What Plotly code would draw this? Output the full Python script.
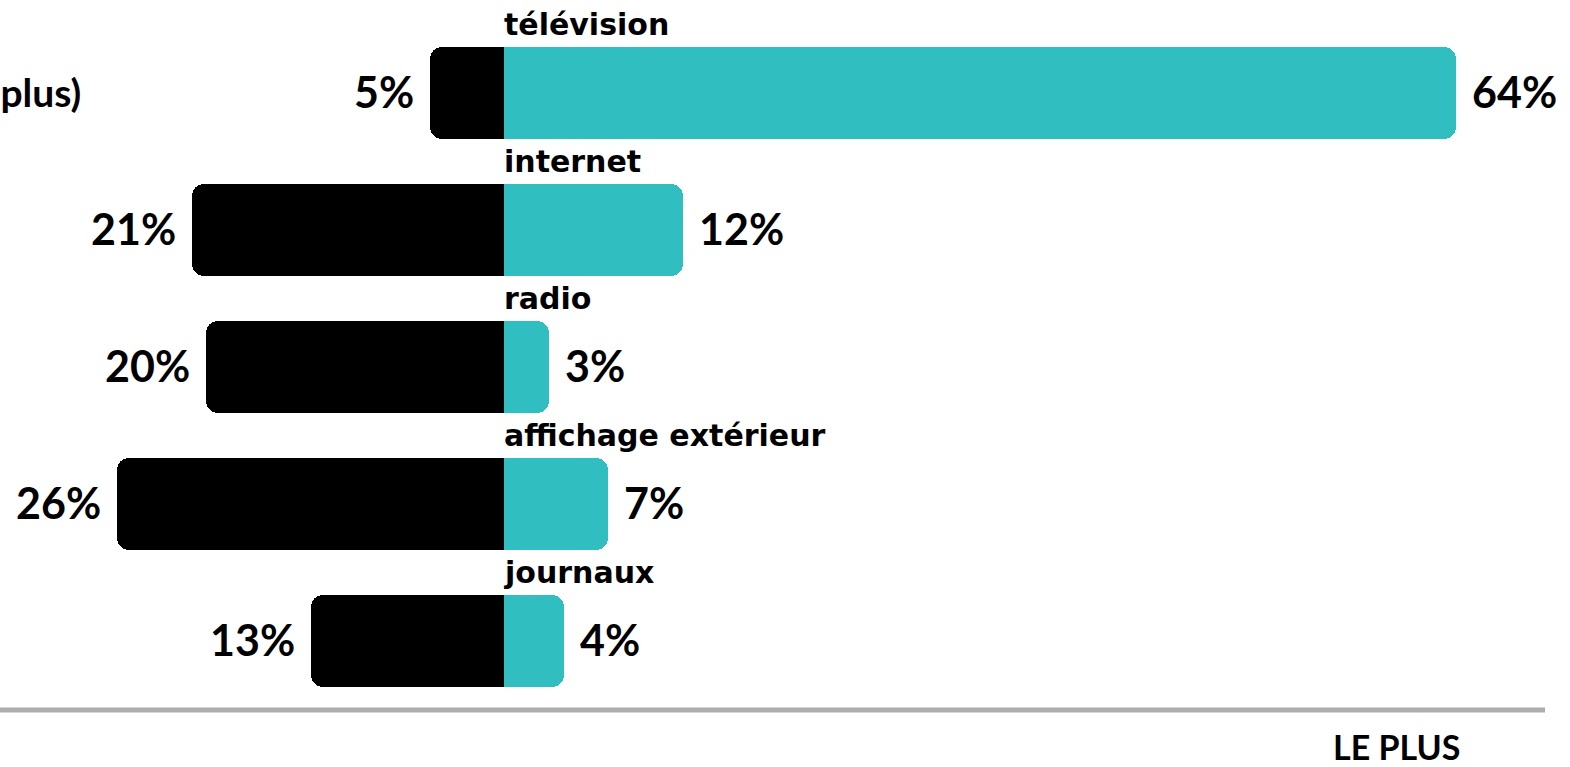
import plotly.graph_objects as go

categories = ["télévision", "internet", "radio", "affichage extérieur", "journaux"]
moins = [5, 21, 20, 26, 13]   # black, left side
plus = [64, 12, 3, 7, 4]      # teal, right side
footer_label = "LE PLUS"
side_title = "(15 ans et plus)"

W, H = 1570, 767
center_px = 504
px_per_pct = 14.88
row_px = 137
first_row_px = 93

x0 = -center_px / px_per_pct
x1 = (W - center_px) / px_per_pct
y_top = -first_row_px / row_px
y_bot = (H - first_row_px) / row_px

ypos = list(range(len(categories)))
TEAL = "#31BEC1"
VALFONT = dict(family="Lato", size=43, color="black")

fig = go.Figure()
fig.add_trace(go.Bar(y=ypos, x=[-v for v in moins], orientation="h",
                     marker=dict(color="black", cornerradius=12, line=dict(width=0)),
                     width=0.67, hoverinfo="skip", showlegend=False))
fig.add_trace(go.Bar(y=ypos, x=plus, orientation="h",
                     marker=dict(color=TEAL, cornerradius=12, line=dict(width=0)),
                     width=0.67, hoverinfo="skip", showlegend=False))

annotations = []
for i, (c, m, p) in enumerate(zip(categories, moins, plus)):
    annotations.append(dict(x=0, y=i - 0.335, xref="x", yref="y", text=f"<b>{c}</b>",
                            xanchor="left", yanchor="bottom", showarrow=False,
                            font=dict(family="DejaVu Sans", size=30, color="black"),
                            xshift=-2, yshift=3))
    annotations.append(dict(x=-m, y=i, xref="x", yref="y", text=f"<b>{m}%</b>",
                            xanchor="right", yanchor="middle", showarrow=False,
                            font=VALFONT, xshift=-14, yshift=2))
    annotations.append(dict(x=p, y=i, xref="x", yref="y", text=f"<b>{p}%</b>",
                            xanchor="left", yanchor="middle", showarrow=False,
                            font=VALFONT, xshift=14, yshift=2))

annotations.append(dict(x=83 / W, y=1 - 92 / H, xref="paper", yref="paper",
                        text=f"<b>{side_title}</b>", xanchor="right", yanchor="middle",
                        showarrow=False, font=dict(family="Lato", size=39, color="black")))
annotations.append(dict(x=1396 / W, y=1 - 746 / H, xref="paper", yref="paper",
                        text=f"<b>{footer_label}</b>", xanchor="center", yanchor="middle",
                        showarrow=False, font=dict(family="Lato", size=34, color="black")))

fig.add_shape(type="line", xref="paper", yref="paper", x0=0, x1=1545 / W,
              y0=1 - 710 / H, y1=1 - 710 / H, line=dict(color="#ADADAD", width=5))

fig.update_layout(width=W, height=H, margin=dict(l=0, r=0, t=0, b=0),
                  paper_bgcolor="white", plot_bgcolor="white",
                  barmode="relative", bargap=0,
                  xaxis=dict(range=[x0, x1], visible=False, fixedrange=True),
                  yaxis=dict(range=[y_bot, y_top], visible=False, fixedrange=True),
                  annotations=annotations)

fig.write_html("out.html", config={"displayModeBar": False},
               post_script="document.body.style.margin='0';document.body.style.overflow='hidden';")
